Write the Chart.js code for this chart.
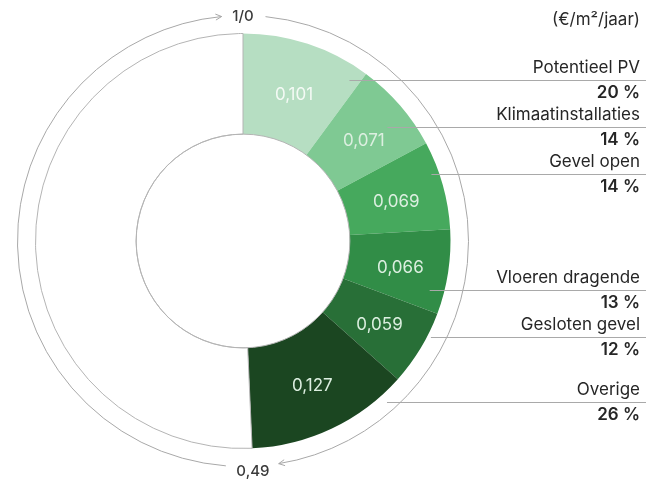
<!DOCTYPE html>
<html>
<head>
<meta charset="utf-8">
<script src="https://cdn.jsdelivr.net/npm/chart.js@4.4.0/dist/chart.umd.min.js"></script>
<style>
  html, body { margin: 0; padding: 0; background: #fff; }
  #wrap { width: 648px; height: 479px; position: relative; }
</style>
</head>
<body>
<div id="wrap"><canvas id="myChart" width="648" height="479"></canvas></div>
<script>
// data
const categories = ['Potentieel PV', 'Klimaatinstallaties', 'Gevel open', 'Vloeren dragende', 'Gesloten gevel', 'Overige'];
const costs = [0.101, 0.071, 0.069, 0.066, 0.059, 0.127];
const shares = [20, 14, 14, 13, 12, 26];
const scaleTotal = 1;
const unitLabel = '(€/m²/jaar)';
const startLabel = '1/0';
const endLabel = '0,49';

const colors = ['#b6dec2', '#7fc993', '#46a95d', '#318d47', '#286f37', '#1b4621'];

// where the callout lines sit (y) and how far in they start (radius)
const callouts = [
  { y: 80, r: 193 },
  { y: 127, r: 184 },
  { y: 174, r: 200 },
  { y: 290, r: 193 },
  { y: 337, r: 211 },
  { y: 402, r: 216 }
];

const used = costs.reduce((a, b) => a + b, 0);
const rest = scaleTotal - used;

function fmt(v) { return v.toFixed(3).replace('.', ','); }

const overlay = {
  id: 'overlay',
  afterDatasetsDraw(chart) {
    const ctx = chart.ctx;
    const meta = chart.getDatasetMeta(0);
    const first = meta.data[0];
    const cx = first.x, cy = first.y;
    const outer = first.outerRadius, inner = first.innerRadius;

    ctx.save();
    // inner circle outline
    ctx.strokeStyle = '#b4b4b4';
    ctx.lineWidth = 1;
    ctx.beginPath();
    ctx.arc(cx, cy, inner, 0, Math.PI * 2);
    ctx.stroke();

    // value labels inside the slices
    ctx.font = '17px Inter, "Noto Sans", sans-serif';
    ctx.textAlign = 'center';
    ctx.textBaseline = 'middle';
    costs.forEach((v, i) => {
      const p = meta.data[i].tooltipPosition();
      ctx.fillStyle = i === 0 ? '#f4faf5' : '#dcefe0';
      ctx.fillText(fmt(v), p.x + 2, p.y + 3);
    });

    // outer scale ring with gaps for the two labels
    const R = outer + 18;
    const top = -Math.PI / 2;
    const endAng = top + (used / scaleTotal) * Math.PI * 2;
    ctx.strokeStyle = '#a8a8a8';
    ctx.lineWidth = 1;
    const a1 = top + 0.1;
    const a2 = endAng - 0.115;
    ctx.beginPath();
    ctx.arc(cx, cy, R, a1, a2);
    ctx.stroke();
    const b1 = endAng + 0.12;
    const b2 = top + Math.PI * 2 - 0.095;
    ctx.beginPath();
    ctx.arc(cx, cy, R, b1, b2);
    ctx.stroke();

    function arrowHead(ang) {
      // tip of the arc at angle ang, travelling clockwise
      const x = cx + R * Math.cos(ang), y = cy + R * Math.sin(ang);
      const tx = -Math.sin(ang), ty = Math.cos(ang);
      const nx = Math.cos(ang), ny = Math.sin(ang);
      const L = 6, W = 3;
      ctx.beginPath();
      ctx.moveTo(x - tx * L + nx * W, y - ty * L + ny * W);
      ctx.lineTo(x, y);
      ctx.lineTo(x - tx * L - nx * W, y - ty * L - ny * W);
      ctx.stroke();
    }
    arrowHead(b2);
    arrowHead(a2);

    ctx.fillStyle = '#3a3a3a';
    ctx.font = '500 15px Inter, "Noto Sans", sans-serif';
    ctx.fillText(startLabel, cx + R * Math.cos(top), cy + R * Math.sin(top) + 1);
    ctx.fillText(endLabel, cx + R * Math.cos(endAng), cy + R * Math.sin(endAng) + 5);

    // unit
    const rightX = 640;
    ctx.textAlign = 'right';
    ctx.font = '17px Inter, "Noto Sans", sans-serif';
    ctx.fillStyle = '#2a2a2a';
    ctx.fillText(unitLabel, rightX, 20);

    // callouts
    categories.forEach((name, i) => {
      const c = callouts[i];
      const dy = c.y - cy;
      const sx = cx + Math.sqrt(Math.max(c.r * c.r - dy * dy, 0));
      ctx.strokeStyle = '#a9a9a9';
      ctx.lineWidth = 1;
      ctx.beginPath();
      ctx.moveTo(sx, c.y + 0.5);
      ctx.lineTo(646, c.y + 0.5);
      ctx.stroke();

      ctx.fillStyle = '#262626';
      ctx.font = '17px Inter, "Noto Sans", sans-serif';
      ctx.fillText(name, rightX, c.y - 12);
      ctx.font = '600 17px Inter, "Noto Sans", sans-serif';
      ctx.fillText(shares[i] + ' %', rightX, c.y + 13);
    });
    ctx.restore();
  }
};

new Chart(document.getElementById('myChart'), {
  type: 'doughnut',
  data: {
    labels: categories.concat(['']),
    datasets: [{
      data: costs.concat([rest]),
      backgroundColor: colors.concat(['#ffffff']),
      borderColor: colors.concat(['#b4b4b4']),
      borderWidth: costs.map(() => 0).concat([1]),
      hoverOffset: 0
    }]
  },
  options: {
    responsive: false,
    animation: false,
    events: [],
    cutout: '51.5%',
    layout: { padding: { left: 35, top: 33, right: 197, bottom: 30 } },
    plugins: {
      legend: { display: false },
      tooltip: { enabled: false }
    }
  },
  plugins: [overlay]
});
</script>
</body>
</html>
